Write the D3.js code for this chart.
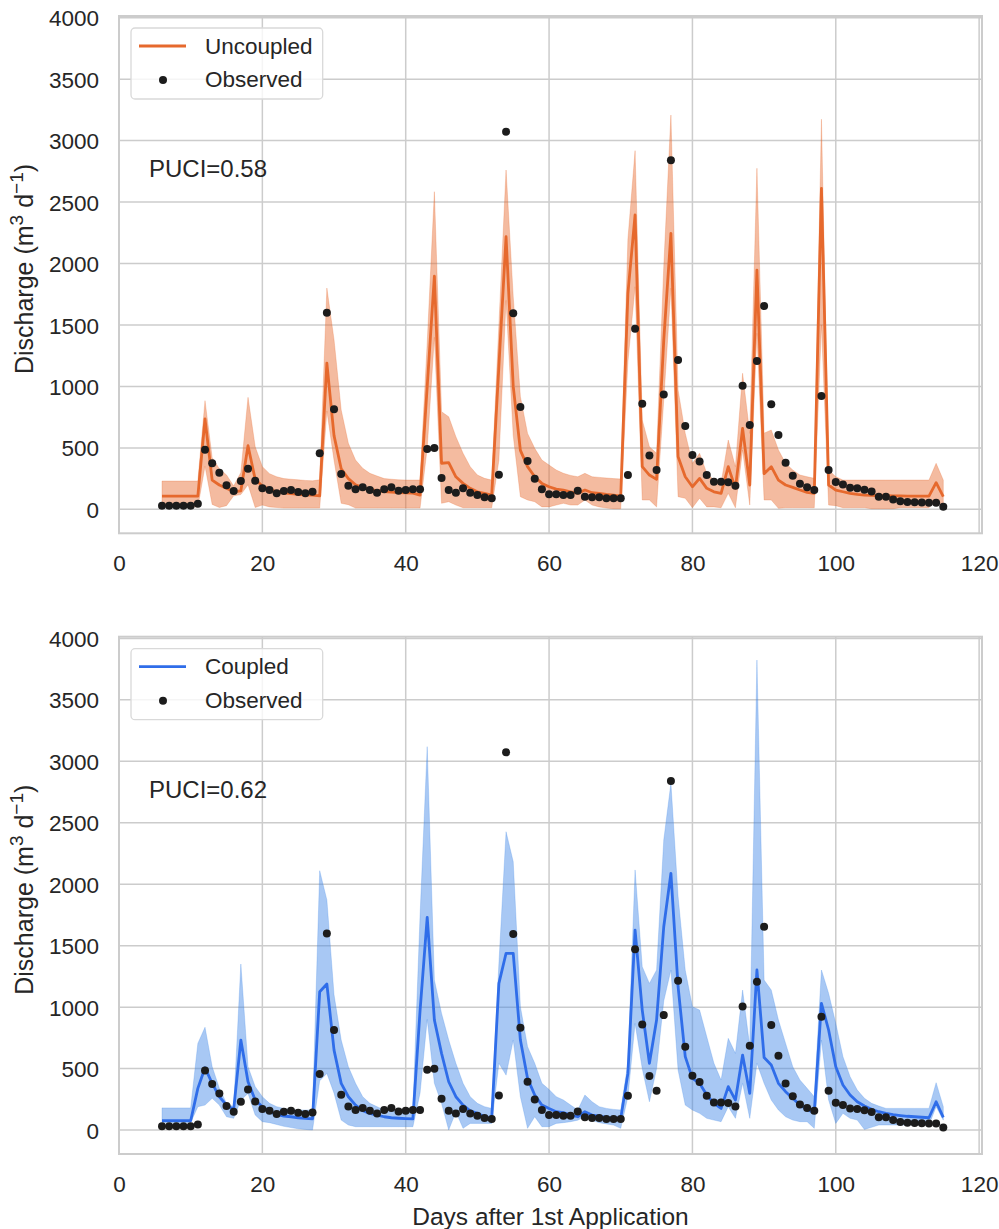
<!DOCTYPE html>
<html>
<head>
<meta charset="utf-8">
<script src="https://cdn.jsdelivr.net/npm/d3@7"></script>
<style>
  html, body { margin: 0; padding: 0; background: #ffffff; }
  svg { display: block; font-family: "Liberation Sans", Arial, Helvetica, sans-serif; }
</style>
</head>
<body>
<svg id="chart" width="999" height="1229"></svg>
<script>
// ---------------- data ----------------
const days = [6,7,8,9,10,11,12,13,14,15,16,17,18,19,20,21,22,23,24,25,26,27,28,29,30,
  31,32,33,34,35,36,37,38,39,40,41,42,43,44,45,46,47,48,49,50,51,52,53,54,55,56,57,58,59,60,
  61,62,63,64,65,66,67,68,69,70,71,72,73,74,75,76,77,78,79,80,81,82,83,84,85,86,87,88,89,90,
  91,92,93,94,95,96,97,98,99,100,101,102,103,104,105,106,107,108,109,110,111,112,113,114,115];

const observed = [30,30,30,30,30,45,485,374,298,195,149,230,330,233,171,
  157,130,149,157,141,130,143,456,1600,814,
  287,192,163,179,157,135,163,179,151,157,
  163,163,491,499,255,157,135,171,135,116,
  98,90,282,3073,1595,832,393,249,163,122,
  122,116,116,151,103,98,98,90,90,90,
  279,1470,859,439,320,935,2840,1215,678,442,
  390,279,225,225,220,192,1006,686,1207,1654,
  854,605,379,274,208,179,157,922,320,222,
  203,176,171,160,146,103,103,81,65,59,
  57,55,54,54,21];

const uncoupled = [108,108,108,108,108,108,735,238,198,171,143,151,518,244,190,
  163,143,135,127,122,118,115,110,1190,600,
  330,250,200,178,163,152,145,140,137,135,
  132,116,1000,1898,375,380,265,211,171,143,
  130,116,1165,2218,1000,480,347,265,211,184,
  165,157,143,130,157,135,130,122,116,108,
  1758,2395,347,279,244,1377,2246,428,265,184,
  252,171,143,130,347,171,659,198,1947,290,
  347,238,198,179,157,138,130,2612,198,157,
  143,130,122,116,114,112,111,110,109,108,
  108,108,108,217,103];

const uncoupledUpper = [230,230,230,230,230,230,884,420,330,280,190,300,911,509,347,
  290,265,250,245,240,235,232,240,1800,1380,
  808,537,401,334,293,271,250,245,240,238,
  238,238,1356,2584,794,753,591,456,347,279,
  252,238,1500,2761,1730,916,618,496,401,360,
  320,293,276,265,293,265,260,255,250,247,
  2200,2918,727,509,456,1974,3208,971,618,374,
  456,293,238,211,564,347,1107,618,2775,620,
  645,483,374,320,279,265,252,3174,320,265,
  238,238,238,238,238,238,238,238,238,238,
  238,238,238,374,238];

const uncoupledLower = [20,20,20,20,20,20,350,40,15,30,110,120,200,15,35,
  20,15,10,10,10,10,10,10,800,400,
  49,38,10,10,10,10,10,10,10,10,
  10,10,500,1400,49,62,35,13,13,13,
  13,13,400,1700,600,103,76,62,20,20,
  35,49,35,35,76,35,20,10,5,5,
  1200,1811,76,76,20,890,1800,103,90,13,
  90,20,20,13,130,13,483,35,1432,76,
  76,8,13,13,13,13,13,1500,35,30,
  13,13,13,13,5,5,5,5,13,13,
  13,13,13,76,20];

const coupled = [76,76,76,76,76,339,507,380,271,203,168,732,393,244,190,
  149,127,114,108,100,95,92,1125,1188,650,
  380,271,203,157,136,122,108,100,96,93,
  90,970,1731,895,624,393,271,203,157,136,
  108,95,1193,1438,1438,732,420,285,203,175,
  149,141,122,108,149,122,114,103,100,95,
  461,1627,976,543,895,1654,2089,1166,597,420,
  380,285,217,176,353,244,610,298,1302,590,
  529,380,312,258,203,168,141,1031,814,515,
  366,285,230,195,168,149,136,125,118,112,
  108,104,100,230,103];

const coupledUpper = [180,180,180,180,180,705,836,515,339,217,190,1351,515,353,271,
  217,190,176,163,163,163,163,2110,1872,1100,
  732,515,380,271,217,190,163,163,163,163,
  163,1744,3119,1220,949,732,543,380,271,217,
  190,176,1356,2427,2183,1003,678,543,380,330,
  271,244,203,163,285,230,190,176,168,163,
  543,2116,1329,1193,1302,2360,2821,1900,1300,1003,
  976,759,543,407,746,624,1139,678,3824,1220,
  1139,895,705,515,407,339,271,1302,1112,868,
  597,434,325,258,217,195,176,176,176,176,
  176,176,176,385,190];

const coupledLower = [60,60,60,60,60,190,203,258,203,108,95,244,298,122,68,
  60,45,30,20,10,5,0,400,461,300,
  81,41,27,27,27,27,27,27,27,27,
  27,300,900,380,217,0,149,14,54,54,
  54,54,543,447,732,271,14,108,27,27,
  54,60,68,80,110,80,60,50,40,14,
  271,868,500,230,500,1050,1302,488,203,163,
  136,95,81,68,190,95,380,95,543,380,
  244,163,108,81,68,68,14,732,244,54,
  136,95,81,5,22,41,41,41,41,41,
  41,41,41,190,81];

const xTicks = [0, 20, 40, 60, 80, 100, 120];
const yTicks = [0, 500, 1000, 1500, 2000, 2500, 3000, 3500, 4000];

const panels = [
  { name: "Uncoupled", puci: "PUCI=0.58", line: uncoupled, upper: uncoupledUpper, lower: uncoupledLower,
    color: "#e6692d", band: "#e6692d", top: 16, bottom: 533.3, showXLabel: false },
  { name: "Coupled", puci: "PUCI=0.62", line: coupled, upper: coupledUpper, lower: coupledLower,
    color: "#2f6de9", band: "#3f86e6", top: 636.7, bottom: 1154, showXLabel: true }
];

// ---------------- drawing ----------------
const svg = d3.select("#chart");
const L = 119, R = 982;
const gridColor = "#cccccc";
const textColor = "#262626";

const x = d3.scaleLinear().domain([0, 120.4]).range([L, R]);

panels.forEach(p => {
  const y = d3.scaleLinear().domain([-195, 4014]).range([p.bottom, p.top]);
  const g = svg.append("g");

  // grid
  g.selectAll(".gx").data(xTicks).enter().append("line")
    .attr("x1", d => x(d)).attr("x2", d => x(d))
    .attr("y1", p.top).attr("y2", p.bottom)
    .attr("stroke", gridColor).attr("stroke-width", 1.5);
  g.selectAll(".gy").data(yTicks).enter().append("line")
    .attr("x1", L).attr("x2", R)
    .attr("y1", d => y(d)).attr("y2", d => y(d))
    .attr("stroke", gridColor).attr("stroke-width", 1.5);

  // axes via d3 axis (labels only, no tick marks)
  const xAxis = d3.axisBottom(x).tickValues(xTicks).tickSize(0).tickPadding(0).tickFormat(d3.format("d"));
  const gx = g.append("g").attr("transform", `translate(0,${p.bottom})`).call(xAxis);
  gx.select(".domain").remove();
  gx.selectAll("text").attr("font-size", 22.5).attr("fill", textColor)
    .attr("dy", null).attr("y", 38).attr("font-family", "Liberation Sans, Arial, sans-serif");

  const yAxis = d3.axisLeft(y).tickValues(yTicks).tickSize(0).tickPadding(20).tickFormat(d3.format("d"));
  const gy = g.append("g").attr("transform", `translate(${L},0)`).call(yAxis);
  gy.select(".domain").remove();
  gy.selectAll("text").attr("font-size", 22.5).attr("fill", textColor)
    .attr("dy", "0.36em").attr("font-family", "Liberation Sans, Arial, sans-serif");

  // band
  const area = d3.area()
    .x((d, i) => x(days[i]))
    .y0((d, i) => y(p.lower[i]))
    .y1((d, i) => y(p.upper[i]));
  g.append("path").datum(p.line).attr("d", area)
    .attr("fill", p.band).attr("fill-opacity", 0.45)
    .attr("stroke", p.band).attr("stroke-opacity", 0.25).attr("stroke-width", 1);

  // line
  const line = d3.line().x((d, i) => x(days[i])).y(d => y(d));
  g.append("path").datum(p.line).attr("d", line)
    .attr("fill", "none").attr("stroke", p.color).attr("stroke-width", 2.8)
    .attr("stroke-linejoin", "round");

  // observed
  g.selectAll(".obs").data(observed).enter().append("circle")
    .attr("cx", (d, i) => x(days[i])).attr("cy", d => y(d)).attr("r", 4)
    .attr("fill", "#1c1c1c");

  // frame
  g.append("rect").attr("x", L).attr("y", p.top).attr("width", R - L).attr("height", p.bottom - p.top)
    .attr("fill", "none").attr("stroke", gridColor).attr("stroke-width", 2);

  // legend
  const lg = g.append("g").attr("transform", `translate(131,${p.top + 12})`);
  lg.append("rect").attr("x", 0).attr("y", 0).attr("width", 191.7).attr("height", 71).attr("rx", 4)
    .attr("fill", "#ffffff").attr("fill-opacity", 0.8).attr("stroke", "#d9d9d9").attr("stroke-width", 1.3);
  lg.append("line").attr("x1", 8).attr("x2", 55).attr("y1", 18).attr("y2", 18)
    .attr("stroke", p.color).attr("stroke-width", 2.8);
  lg.append("text").attr("x", 74).attr("y", 25.5).attr("font-size", 22.5).attr("fill", textColor).text(p.name);
  lg.append("circle").attr("cx", 32).attr("cy", 52).attr("r", 4).attr("fill", "#1c1c1c");
  lg.append("text").attr("x", 74).attr("y", 59).attr("font-size", 22.5).attr("fill", textColor).text("Observed");

  // PUCI annotation
  g.append("text").attr("x", 149).attr("y", p.top + 161).attr("font-size", 24)
    .attr("fill", textColor).text(p.puci);

  // y label
  const yl = g.append("text")
    .attr("transform", `translate(33,${p.top + 253}) rotate(-90)`)
    .attr("text-anchor", "middle").attr("font-size", 25).attr("fill", textColor);
  yl.append("tspan").text("Discharge (m");
  yl.append("tspan").attr("font-size", 19).attr("dy", -10).text("3");
  yl.append("tspan").attr("dy", 10).text(" d");
  yl.append("tspan").attr("font-size", 19).attr("dy", -10).text("\u22121");
  yl.append("tspan").attr("dy", 10).text(")");

  if (p.showXLabel) {
    svg.append("text").attr("x", (L + R) / 2).attr("y", 1225).attr("text-anchor", "middle")
      .attr("font-size", 24.5).attr("fill", textColor).text("Days after 1st Application");
  }
});
</script>
</body>
</html>
